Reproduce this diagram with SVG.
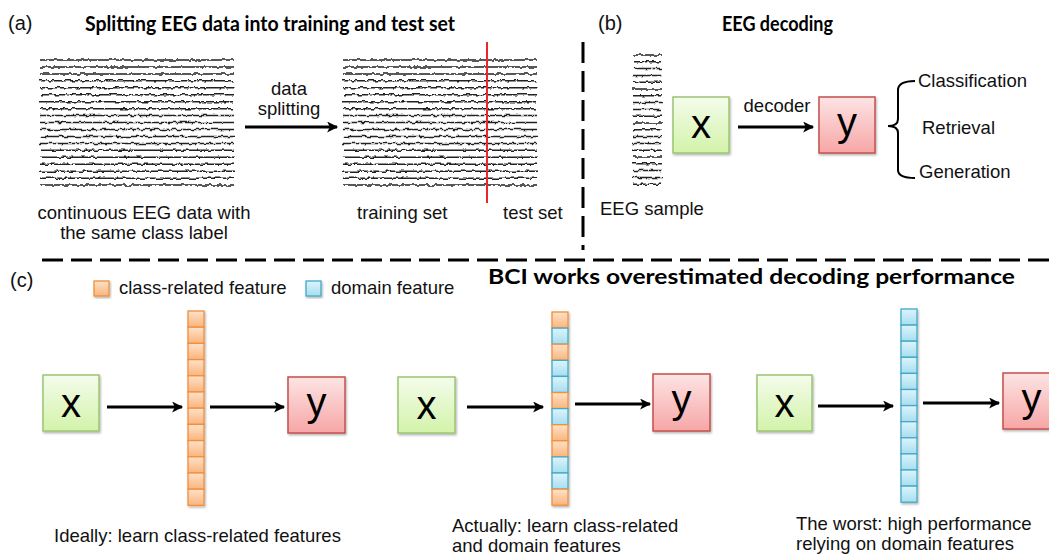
<svg xmlns="http://www.w3.org/2000/svg" xmlns:xlink="http://www.w3.org/1999/xlink" width="1049" height="560" viewBox="0 0 1049 560">
<style>
.t{font-family:"Liberation Sans",Arial,sans-serif;fill:#111;}
.lb{font-size:18.5px;}
.ttl{font-family:Lato,"Liberation Sans",sans-serif;font-weight:bold;font-size:21px;fill:#000;}
.big{font-family:"Liberation Sans",Arial,sans-serif;font-size:40px;fill:#000;text-anchor:middle;}
.gx{fill:url(#gG);stroke:#9cc474;stroke-width:1.5;}
.ry{fill:url(#gR);stroke:#c4504c;stroke-width:1.5;}
.co{fill:url(#gO);stroke:#f0903e;stroke-width:1.3;}
.cb{fill:url(#gB);stroke:#45a8c4;stroke-width:1.3;}
.ar{stroke:#000;stroke-width:3;fill:none;marker-end:url(#ah);}
.tr{stroke:#222;stroke-width:1.5;fill:none;}
.dash{stroke:#000;stroke-width:3;stroke-dasharray:21 8;fill:none;}
</style>
<defs>
<linearGradient id="gG" x1="0" y1="0" x2="0" y2="1"><stop offset="0" stop-color="#f4fceb"/><stop offset="1" stop-color="#d3f3aa"/></linearGradient>
<linearGradient id="gR" x1="0" y1="0" x2="0" y2="1"><stop offset="0" stop-color="#fde4e4"/><stop offset="1" stop-color="#f7a6a6"/></linearGradient>
<linearGradient id="gO" x1="0" y1="0" x2="0" y2="1"><stop offset="0" stop-color="#fde2c8"/><stop offset="1" stop-color="#fbb47c"/></linearGradient>
<linearGradient id="gB" x1="0" y1="0" x2="0" y2="1"><stop offset="0" stop-color="#dcf4fc"/><stop offset="1" stop-color="#a6def0"/></linearGradient>
<filter id="sh" x="-10%" y="-10%" width="130%" height="130%"><feDropShadow dx="1" dy="1.5" stdDeviation="1" flood-opacity="0.3"/></filter>
<filter id="wig" x="-3%" y="-5%" width="106%" height="110%">
<feTurbulence type="fractalNoise" baseFrequency="0.22 0.12" numOctaves="2" seed="11" result="n"/>
<feDisplacementMap in="SourceGraphic" in2="n" scale="4" xChannelSelector="G" yChannelSelector="R"/>
</filter>
<marker id="ah" viewBox="0 0 10 10" refX="9" refY="5" markerWidth="13" markerHeight="11" markerUnits="userSpaceOnUse" orient="auto"><path d="M0,0 L10,5 L0,10 L2.5,5 z" fill="#000"/></marker>
<g id="eeg" filter="url(#wig)">
<path class="tr" d="M0,60H194M0,66.95H194M0,73.9H194M0,80.85H194M0,87.8H194M0,94.75H194M0,101.7H194M0,108.65H194M0,115.6H194M0,122.55H194M0,129.5H194M0,136.45H194M0,143.4H194M0,150.35H194M0,157.3H194M0,164.25H194M0,171.2H194M0,178.15H194M0,185.1H194"/>
</g>
</defs>

<g id="panel-a">
<text class="t" x="8" y="30" font-size="20">(a)</text>
<text class="ttl" x="85" y="31" textLength="370" lengthAdjust="spacingAndGlyphs">Splitting EEG data into training and test set</text>
<g id="eeg-continuous"><use xlink:href="#eeg" x="40" y="0"/></g>
<g id="eeg-split"><use xlink:href="#eeg" x="343" y="0"/>
<line x1="487" y1="42" x2="487" y2="203" stroke="#e8282a" stroke-width="2"/></g>
<text class="t lb" x="144" y="219" text-anchor="middle">continuous EEG data with</text>
<text class="t lb" x="144" y="239" text-anchor="middle">the same class label</text>
<text class="t lb" x="289" y="95" text-anchor="middle">data</text>
<text class="t lb" x="289" y="115" text-anchor="middle">splitting</text>
<text class="t lb" x="357" y="219">training set</text>
<text class="t lb" x="503" y="219">test set</text>
</g>

<g id="panel-b">
<text class="t" x="598" y="30" font-size="20">(b)</text>
<text class="ttl" x="722" y="31" textLength="111" lengthAdjust="spacingAndGlyphs">EEG decoding</text>
<g id="eeg-sample" filter="url(#wig)">
<path class="tr" stroke-width="1.1" d="M633,55H662M633,61.8H662M633,68.6H662M633,75.4H662M633,82.2H662M633,89H662M633,95.8H662M633,102.6H662M633,109.4H662M633,116.2H662M633,123H662M633,129.8H662M633,136.6H662M633,143.4H662M633,150.2H662M633,157H662M633,163.8H662M633,170.6H662M633,177.4H662M633,184.2H662"/>
</g>
<text class="t lb" x="600" y="215">EEG sample</text>
<g id="b-x"><rect class="gx" x="673" y="97" width="56" height="56" filter="url(#sh)"/><text class="big" x="701" y="138">x</text></g>
<g id="b-y"><rect class="ry" x="819" y="97" width="56" height="56" filter="url(#sh)"/><text class="big" x="847" y="136">y</text></g>
<text class="t lb" x="777" y="112" text-anchor="middle">decoder</text>
<path d="M915,81 Q898,81 898,90 L898,119 Q898,126 888,126 Q898,126 898,133 L898,170 Q898,178 915,178" stroke="#000" stroke-width="2" fill="none"/>
<text class="t lb" x="918" y="87">Classification</text>
<text class="t lb" x="922" y="134">Retrieval</text>
<text class="t lb" x="919" y="178">Generation</text>
</g>

<g id="panel-c">
<text class="t" x="10" y="287" font-size="20">(c)</text>
<text class="ttl" x="488" y="284" textLength="527" lengthAdjust="spacingAndGlyphs">BCI works overestimated decoding performance</text>
<rect class="co" x="94" y="281" width="15" height="15" filter="url(#sh)"/>
<text class="t lb" x="119" y="294">class-related feature</text>
<rect class="cb" x="306" y="281" width="15" height="15" filter="url(#sh)"/>
<text class="t lb" x="331" y="294">domain feature</text>

<g id="c1-x"><rect class="gx" x="43" y="375" width="56" height="56" filter="url(#sh)"/><text class="big" x="71" y="417">x</text></g>
<g id="c1-feat" filter="url(#sh)">
<rect class="co" x="188" y="311" width="16" height="16.2"/><rect class="co" x="188" y="327.2" width="16" height="16.2"/><rect class="co" x="188" y="343.4" width="16" height="16.2"/><rect class="co" x="188" y="359.6" width="16" height="16.2"/><rect class="co" x="188" y="375.8" width="16" height="16.2"/><rect class="co" x="188" y="392" width="16" height="16.2"/><rect class="co" x="188" y="408.2" width="16" height="16.2"/><rect class="co" x="188" y="424.4" width="16" height="16.2"/><rect class="co" x="188" y="440.6" width="16" height="16.2"/><rect class="co" x="188" y="456.8" width="16" height="16.2"/><rect class="co" x="188" y="473" width="16" height="16.2"/><rect class="co" x="188" y="489.2" width="16" height="16.2"/>
</g>
<g id="c1-y"><rect class="ry" x="288" y="377" width="57" height="56" filter="url(#sh)"/><text class="big" x="316.5" y="416">y</text></g>
<text class="t lb" x="54" y="542">Ideally: learn class-related features</text>

<g id="c2-x"><rect class="gx" x="398" y="377" width="57" height="56" filter="url(#sh)"/><text class="big" x="426.5" y="419">x</text></g>
<g id="c2-feat" filter="url(#sh)">
<rect class="co" x="552" y="312" width="16" height="16.1"/><rect class="cb" x="552" y="328.1" width="16" height="16.1"/><rect class="co" x="552" y="344.2" width="16" height="16.1"/><rect class="cb" x="552" y="360.3" width="16" height="16.1"/><rect class="cb" x="552" y="376.4" width="16" height="16.1"/><rect class="co" x="552" y="392.5" width="16" height="16.1"/><rect class="cb" x="552" y="408.6" width="16" height="16.1"/><rect class="co" x="552" y="424.7" width="16" height="16.1"/><rect class="co" x="552" y="440.8" width="16" height="16.1"/><rect class="cb" x="552" y="456.9" width="16" height="16.1"/><rect class="cb" x="552" y="473" width="16" height="16.1"/><rect class="co" x="552" y="489.1" width="16" height="16.1"/>
</g>
<g id="c2-y"><rect class="ry" x="653" y="374" width="57" height="57" filter="url(#sh)"/><text class="big" x="681.5" y="413">y</text></g>
<text class="t lb" x="452" y="532">Actually: learn class-related</text>
<text class="t lb" x="452" y="552">and domain features</text>

<g id="c3-x"><rect class="gx" x="757" y="375" width="55" height="56" filter="url(#sh)"/><text class="big" x="784.5" y="417">x</text></g>
<g id="c3-feat" filter="url(#sh)">
<rect class="cb" x="901" y="309" width="16" height="16.1"/><rect class="cb" x="901" y="325.1" width="16" height="16.1"/><rect class="cb" x="901" y="341.2" width="16" height="16.1"/><rect class="cb" x="901" y="357.3" width="16" height="16.1"/><rect class="cb" x="901" y="373.4" width="16" height="16.1"/><rect class="cb" x="901" y="389.5" width="16" height="16.1"/><rect class="cb" x="901" y="405.6" width="16" height="16.1"/><rect class="cb" x="901" y="421.7" width="16" height="16.1"/><rect class="cb" x="901" y="437.8" width="16" height="16.1"/><rect class="cb" x="901" y="453.9" width="16" height="16.1"/><rect class="cb" x="901" y="470" width="16" height="16.1"/><rect class="cb" x="901" y="486.1" width="16" height="16.1"/>
</g>
<g id="c3-y"><rect class="ry" x="1003" y="373" width="57" height="56" filter="url(#sh)"/><text class="big" x="1031.5" y="412">y</text></g>
<text class="t lb" x="796" y="530">The worst: high performance</text>
<text class="t lb" x="796" y="550">relying on domain features</text>
</g>

<g id="connectors">
<line class="dash" x1="583" y1="42" x2="583" y2="250"/>
<line class="dash" x1="42" y1="260" x2="1049" y2="260"/>
<line class="ar" x1="245" y1="127" x2="337" y2="127"/>
<line class="ar" x1="738" y1="127" x2="813" y2="127"/>
<line class="ar" x1="107" y1="407" x2="182" y2="407"/>
<line class="ar" x1="210" y1="407" x2="284" y2="407"/>
<line class="ar" x1="467" y1="407" x2="543" y2="407"/>
<line class="ar" x1="575" y1="404" x2="650" y2="404"/>
<line class="ar" x1="818" y1="406" x2="893" y2="406"/>
<line class="ar" x1="923" y1="403" x2="999" y2="403"/>
</g>
</svg>
